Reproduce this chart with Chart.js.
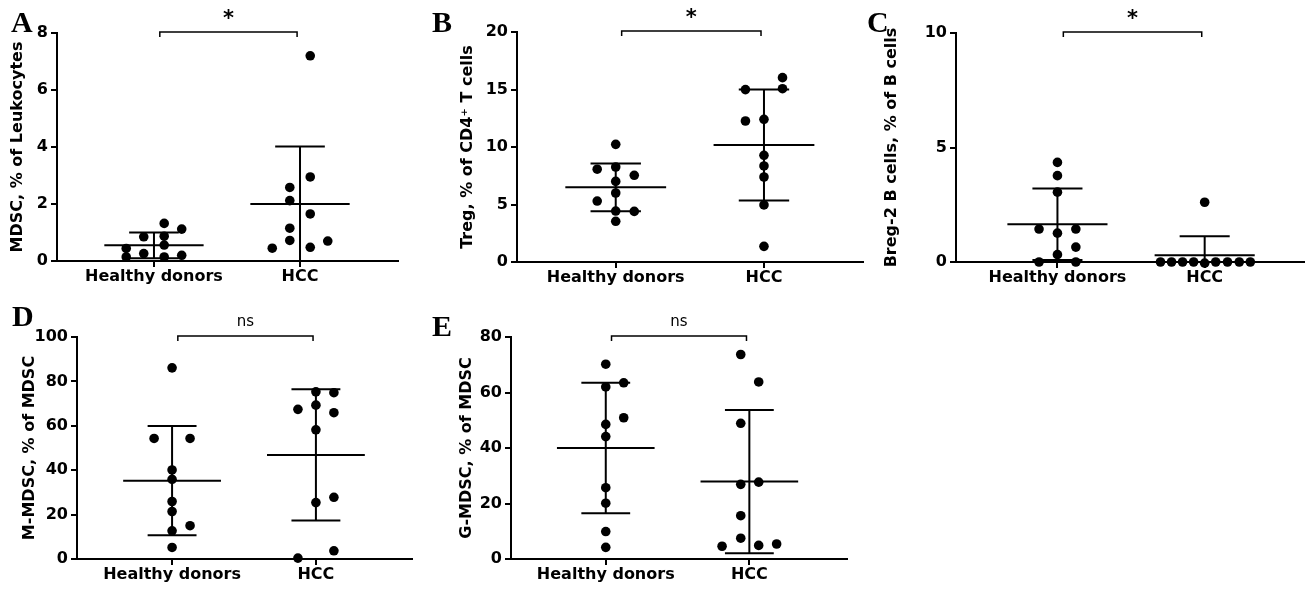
<!DOCTYPE html>
<html>
<head>
<meta charset="utf-8">
<script src="https://cdn.jsdelivr.net/npm/chart.js@4"></script>
<style>
  body { margin: 0; background: #fff; }
  #wrap { position: relative; width: 1309px; height: 590px; }
  canvas { position: absolute; }
</style>
</head>
<body>
<div id="wrap">
  <canvas id="chartA" width="420" height="295" style="left:0;top:0"></canvas>
  <canvas id="chartB" width="440" height="295" style="left:430px;top:0"></canvas>
  <canvas id="chartC" width="449" height="295" style="left:860px;top:0"></canvas>
  <canvas id="chartD" width="430" height="295" style="left:0;top:295px"></canvas>
  <canvas id="chartE" width="440" height="295" style="left:430px;top:295px"></canvas>
</div>
<script>
// groups on the x axis
const groups = ['Healthy donors', 'HCC'];

// A - MDSC, % of leukocytes
const mdscHealthy = [1.32, 1.12, 0.85, 0.87, 0.56, 0.44, 0.14, 0.26, 0.14, 0.2];
const mdscHealthyJitter = [0.07, 0.19, -0.07, 0.07, 0.07, -0.19, -0.19, -0.07, 0.07, 0.19];
const mdscHcc = [7.2, 2.95, 2.58, 2.12, 1.65, 1.15, 0.72, 0.45, 0.48, 0.7];
const mdscHccJitter = [0.07, 0.07, -0.07, -0.07, 0.07, -0.07, -0.07, -0.19, 0.07, 0.19];
const mdscMean = [0.55, 2.0];
const mdscSd = [0.45, 2.02];

// B - Treg, % of CD4+ T cells
const tregHealthy = [10.23, 8.07, 8.26, 7.54, 7.01, 6.0, 5.3, 4.43, 4.4, 3.54];
const tregHealthyJitter = [0, -0.125, 0, 0.125, 0, 0, -0.125, 0, 0.125, 0];
const tregHcc = [16.03, 14.99, 15.07, 12.26, 12.41, 9.28, 8.35, 7.39, 4.96, 1.36];
const tregHccJitter = [0.125, -0.125, 0.125, -0.125, 0, 0, 0, 0, 0, 0];
const tregMean = [6.49, 10.17];
const tregSd = [2.08, 4.83];

// C - Breg-2 B cells, % of B cells
const bregHealthy = [4.35, 3.77, 3.05, 1.44, 1.44, 1.26, 0.65, 0.32, 0, 0];
const bregHealthyJitter = [0, 0, 0, -0.125, 0.125, 0, 0.125, 0, -0.125, 0.125];
const bregHcc = [2.61, 0, 0, 0, 0, -0.05, 0, 0, 0, 0];
const bregHccJitter = [0, -0.3, -0.225, -0.15, -0.075, 0, 0.075, 0.155, 0.235, 0.31];
const bregMean = [1.65, 0.3];
const bregSd = [1.56, 0.82];

// D - M-MDSC, % of MDSC
const mmdscHealthy = [86.1, 54.3, 54.3, 40.1, 35.9, 25.9, 21.4, 15.0, 12.7, 5.2];
const mmdscHealthyJitter = [0, -0.125, 0.125, 0, 0, 0, 0, 0.125, 0, 0];
const mmdscHcc = [75.3, 74.9, 67.4, 69.3, 65.9, 58.2, 27.8, 25.4, 3.7, 0.4];
const mmdscHccJitter = [0, 0.125, -0.125, 0, 0.125, 0, 0.125, 0, 0.125, -0.125];
const mmdscMean = [35.3, 46.9];
const mmdscSd = [24.6, 29.6];

// E - G-MDSC, % of MDSC
const gmdscHealthy = [70.2, 63.5, 62.0, 50.9, 48.5, 44.1, 25.7, 20.1, 9.9, 4.2];
const gmdscHealthyJitter = [0, 0.125, 0, 0.125, 0, 0, 0, 0, 0, 0];
const gmdscHcc = [73.7, 63.8, 48.9, 26.9, 27.7, 15.6, 7.5, 4.6, 4.9, 5.4];
const gmdscHccJitter = [-0.06, 0.065, -0.06, -0.06, 0.065, -0.06, -0.06, -0.19, 0.065, 0.19];
const gmdscMean = [40.0, 27.9];
const gmdscSd = [23.5, 25.8];

const tickFont = { family: 'DejaVu Sans', size: 16, weight: 'bold' };
const titleFont = { family: 'DejaVu Sans', size: 16, weight: 'bold' };

// draws mean +/- SD, the comparison bracket and the panel letter
const extras = {
  id: 'extras',
  afterDatasetsDraw(chart, args, opts) {
    const { ctx, chartArea: area, scales: { x, y } } = chart;
    ctx.save();
    ctx.strokeStyle = '#000';
    ctx.lineWidth = 2;
    ctx.beginPath();
    ctx.rect(area.left, area.top - 2, area.right - area.left, area.bottom - area.top + 2);
    ctx.clip();
    opts.mean.forEach((m, i) => {
      const cx = i + 1;
      const yMean = y.getPixelForValue(m);
      const yHi = y.getPixelForValue(m + opts.sd[i]);
      const yLo = y.getPixelForValue(m - opts.sd[i]);
      ctx.beginPath();
      ctx.moveTo(x.getPixelForValue(cx - 0.34), yMean);
      ctx.lineTo(x.getPixelForValue(cx + 0.34), yMean);
      ctx.moveTo(x.getPixelForValue(cx), yHi);
      ctx.lineTo(x.getPixelForValue(cx), yLo);
      ctx.moveTo(x.getPixelForValue(cx - 0.17), yHi);
      ctx.lineTo(x.getPixelForValue(cx + 0.17), yHi);
      ctx.moveTo(x.getPixelForValue(cx - 0.17), yLo);
      ctx.lineTo(x.getPixelForValue(cx + 0.17), yLo);
      ctx.stroke();
    });
    ctx.restore();

    // bracket
    ctx.save();
    const x1 = x.getPixelForValue(1.04), x2 = x.getPixelForValue(1.98);
    const by = area.top - 1;
    ctx.strokeStyle = '#000';
    ctx.lineWidth = 1.5;
    ctx.beginPath();
    ctx.moveTo(x1, by + 5);
    ctx.lineTo(x1, by);
    ctx.lineTo(x2, by);
    ctx.lineTo(x2, by + 5);
    ctx.stroke();
    ctx.fillStyle = '#000';
    ctx.textAlign = 'center';
    ctx.textBaseline = 'alphabetic';
    if (opts.sig === '*') {
      ctx.font = 'bold 21px "DejaVu Sans"';
      ctx.fillText('*', (x1 + x2) / 2, by - 7);
    } else {
      ctx.font = '15px "DejaVu Sans"';
      ctx.fillText(opts.sig, (x1 + x2) / 2, by - 10);
    }
    // panel letter
    ctx.font = 'bold 30px "Liberation Serif"';
    ctx.textAlign = 'left';
    ctx.fillText(opts.letter, opts.letterX, opts.letterY);
    ctx.restore();
  }
};

function makePanel(id, cfg) {
  const ds = [cfg.healthy, cfg.hcc].map((vals, g) => ({
    data: vals.map((v, i) => ({ x: g + 1 + cfg.jitter[g][i], y: v })),
    backgroundColor: '#000',
    borderWidth: 0,
    pointRadius: 4.8,
    clip: false
  }));
  return new Chart(document.getElementById(id), {
    type: 'scatter',
    data: { datasets: ds },
    plugins: [extras],
    options: {
      responsive: false,
      animation: false,
      devicePixelRatio: 1,
      layout: { padding: { top: cfg.top, right: cfg.right, left: 0, bottom: 0 } },
      plugins: {
        legend: { display: false },
        tooltip: { enabled: false },
        extras: {
          mean: cfg.mean, sd: cfg.sd, sig: cfg.sig,
          letter: cfg.letter, letterX: cfg.letterX, letterY: cfg.letterY
        }
      },
      scales: {
        x: {
          type: 'linear',
          min: cfg.xMin, max: cfg.xMax,
          afterBuildTicks: s => { s.ticks = [{ value: 1 }, { value: 2 }]; },
          ticks: {
            callback: (v, i) => groups[i],
            color: '#000', font: titleFont, padding: 0,
            autoSkip: false, maxRotation: 0
          },
          grid: { drawOnChartArea: false, color: '#000', lineWidth: 2, tickLength: 6 },
          border: { color: '#000', width: 2 },
          afterFit: s => { s.height = cfg.xh; }
        },
        y: {
          min: 0, max: cfg.yMax,
          ticks: { stepSize: cfg.step, color: '#000', font: tickFont, padding: 3 },
          grid: { drawOnChartArea: false, color: '#000', lineWidth: 2, tickLength: 6 },
          border: { color: '#000', width: 2 },
          title: {
            display: true, text: cfg.title, color: '#000', font: titleFont,
            padding: { top: cfg.titlePad, bottom: 0 }
          },
          afterFit: s => { s.width = cfg.yw; }
        }
      }
    }
  });
}

window.onload = function () {
  makePanel('chartA', {
    healthy: mdscHealthy, hcc: mdscHcc, jitter: [mdscHealthyJitter, mdscHccJitter],
    mean: mdscMean, sd: mdscSd, sig: '*', letter: 'A', letterX: 11, letterY: 32,
    title: 'MDSC, % of Leukocytes', yMax: 8, step: 2,
    top: 33, right: 22, yw: 57, xh: 34, xMin: 0.336, xMax: 2.671, titlePad: 8.4
  });
  makePanel('chartB', {
    healthy: tregHealthy, hcc: tregHcc, jitter: [tregHealthyJitter, tregHccJitter],
    mean: tregMean, sd: tregSd, sig: '*', letter: 'B', letterX: 2, letterY: 32,
    title: 'Treg, % of CD4\u207A T cells', yMax: 20, step: 5,
    top: 32, right: 7, yw: 87, xh: 33, xMin: 0.334, xMax: 2.668, titlePad: 28.4
  });
  makePanel('chartC', {
    healthy: bregHealthy, hcc: bregHcc, jitter: [bregHealthyJitter, bregHccJitter],
    mean: bregMean, sd: bregSd, sig: '*', letter: 'C', letterX: 7, letterY: 32,
    title: 'Breg-2 B cells, % of B cells', yMax: 10, step: 5,
    top: 33, right: 2, yw: 96, xh: 33, xMin: 0.311, xMax: 2.676, titlePad: 22.4
  });
  makePanel('chartD', {
    healthy: mmdscHealthy, hcc: mmdscHcc, jitter: [mmdscHealthyJitter, mmdscHccJitter],
    mean: mmdscMean, sd: mmdscSd, sig: 'ns', letter: 'D', letterX: 12, letterY: 31,
    title: 'M-MDSC, % of MDSC', yMax: 100, step: 20,
    top: 42, right: 18, yw: 77, xh: 31, xMin: 0.339, xMax: 2.668, titlePad: 20.4
  });
  makePanel('chartE', {
    healthy: gmdscHealthy, hcc: gmdscHcc, jitter: [gmdscHealthyJitter, gmdscHccJitter],
    mean: gmdscMean, sd: gmdscSd, sig: 'ns', letter: 'E', letterX: 2, letterY: 41,
    title: 'G-MDSC, % of MDSC', yMax: 80, step: 20,
    top: 42, right: 23, yw: 81, xh: 31, xMin: 0.34, xMax: 2.68, titlePad: 27.4
  });
};
</script>
</body>
</html>
